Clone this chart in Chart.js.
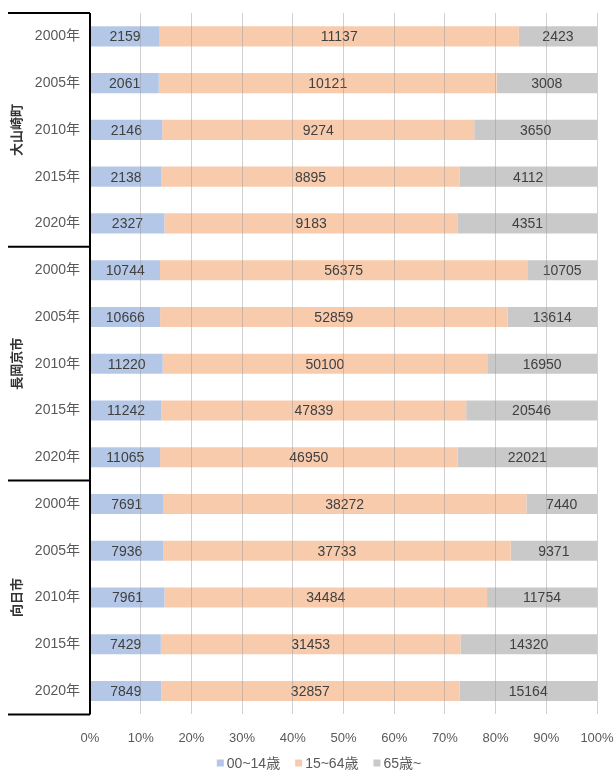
<!DOCTYPE html>
<html><head><meta charset="utf-8">
<script src="https://cdn.jsdelivr.net/npm/chart.js@4"></script>
<style>html,body{margin:0;padding:0;background:#fff;}#wrap{width:614px;height:772px;}</style>
</head><body><div id="wrap"><canvas id="c" width="614" height="772"></canvas></div>
<script>
const groups = ["大山崎町", "長岡京市", "向日市"];
const years = ["2000年", "2005年", "2010年", "2015年", "2020年"];
const seriesNames = ["00~14歳", "15~64歳", "65歳~"];
const young = [2159, 2061, 2146, 2138, 2327, 10744, 10666, 11220, 11242, 11065, 7691, 7936, 7961, 7429, 7849];
const working = [11137, 10121, 9274, 8895, 9183, 56375, 52859, 50100, 47839, 46950, 38272, 37733, 34484, 31453, 32857];
const elderly = [2423, 3008, 3650, 4112, 4351, 10705, 13614, 16950, 20546, 22021, 7440, 9371, 11754, 14320, 15164];
const colors = ["#b4c7e7", "#f8cbad", "#c9c9c9"];

const labels = [];
groups.forEach(() => years.forEach(y => labels.push(y)));
const raw = [young, working, elderly];
const totals = young.map((v, i) => v + working[i] + elderly[i]);
const datasets = raw.map((arr, k) => ({
  label: seriesNames[k],
  data: arr.map((v, i) => v / totals[i] * 100),
  rawValues: arr,
  backgroundColor: colors[k],
  borderWidth: 0,
  barPercentage: 0.43,
  categoryPercentage: 1
}));

const FONT = "'Liberation Sans','Noto Sans CJK JP',sans-serif";

const overlay = {
  id: 'overlay',
  afterDatasetsDraw(chart) {
    const ctx = chart.ctx;
    ctx.save();
    ctx.font = "14px " + FONT;
    ctx.fillStyle = "#404040";
    ctx.textAlign = "center";
    ctx.textBaseline = "middle";
    chart.data.datasets.forEach((ds, di) => {
      const meta = chart.getDatasetMeta(di);
      meta.data.forEach((el, i) => {
        const x = (el.x + el.base) / 2;
        ctx.fillText(String(ds.rawValues[i]), x, el.y + 1);
      });
    });
    ctx.restore();
  },
  afterDraw(chart) {
    const ctx = chart.ctx;
    const a = chart.chartArea;
    const ys = chart.scales.y;
    ctx.save();
    ctx.strokeStyle = "#000";
    ctx.lineWidth = 2;
    ctx.beginPath();
    ctx.moveTo(a.left, a.top);
    ctx.lineTo(a.left, a.bottom);
    ctx.stroke();
    const n = years.length;
    const bounds = [];
    for (let g = 0; g <= groups.length; g++) {
      let y;
      if (g === 0) y = a.top;
      else if (g === groups.length) y = a.bottom;
      else y = (ys.getPixelForValue(g * n - 1) + ys.getPixelForValue(g * n)) / 2;
      bounds.push(y);
      ctx.beginPath();
      ctx.moveTo(8, y);
      ctx.lineTo(a.left, y);
      ctx.stroke();
    }
    ctx.font = "bold 13px 'Noto Sans CJK JP',sans-serif";
    ctx.fillStyle = "#333";
    ctx.textAlign = "center";
    ctx.textBaseline = "middle";
    groups.forEach((name, g) => {
      const cy = (bounds[g] + bounds[g + 1]) / 2;
      ctx.save();
      ctx.translate(16, cy);
      ctx.rotate(-Math.PI / 2);
      ctx.fillText(name, 0, 0);
      ctx.restore();
    });
    // legend
    ctx.font = "14px " + FONT;
    ctx.textAlign = "left";
    const box = 7, gapBox = 3, gapItem = 15;
    const widths = seriesNames.map(s => ctx.measureText(s).width);
    const total = widths.reduce((s, w) => s + box + gapBox + w, 0) + gapItem * (seriesNames.length - 1);
    let x = 319 - total / 2;
    const ly = 763;
    seriesNames.forEach((s, i) => {
      ctx.fillStyle = colors[i];
      ctx.fillRect(x, ly - box / 2, box, box);
      x += box + gapBox;
      ctx.fillStyle = "#595959";
      ctx.fillText(s, x, ly + 1);
      x += widths[i] + gapItem;
    });
    ctx.restore();
  }
};

new Chart(document.getElementById('c'), {
  type: 'bar',
  data: { labels, datasets },
  options: {
    indexAxis: 'y',
    responsive: false,
    animation: false,
    layout: { padding: { left: 8, right: 17, top: 13, bottom: 10 } },
    scales: {
      x: {
        stacked: true, min: 0, max: 100,
        afterFit(s) { s.paddingLeft = 0; s.paddingRight = 0; },
        ticks: { stepSize: 10, callback: v => v + '%', color: '#595959', font: { size: 13, family: FONT }, padding: 16 },
        grid: { color: 'rgba(150,150,150,0.45)', z: 1, drawTicks: false },
        border: { display: false }
      },
      y: {
        stacked: true,
        afterFit(s) { s.width = 82; s.paddingTop = 0; s.paddingBottom = 0; },
        ticks: { color: '#595959', font: { size: 14, family: FONT }, padding: 2 },
        grid: { display: false },
        border: { display: false }
      }
    },
    plugins: {
      legend: { display: false },
      tooltip: { enabled: false }
    }
  },
  plugins: [overlay]
});
</script></body></html>
